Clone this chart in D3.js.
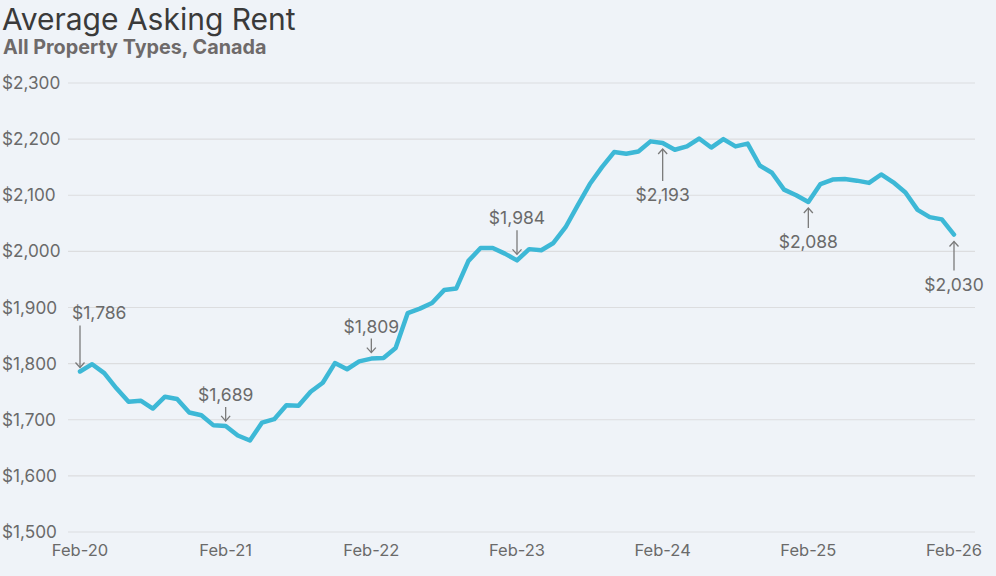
<!DOCTYPE html>
<html><head><meta charset="utf-8">
<script src="https://cdn.jsdelivr.net/npm/d3@7"></script>
<style>
html,body{margin:0;padding:0;background:#eff3f8;}
svg{display:block;font-family:Inter,"Noto Sans",sans-serif;}
</style></head>
<body><svg id="c" width="996" height="576"></svg>
<script>
const months = ["Feb-20","Mar-20","Apr-20","May-20","Jun-20","Jul-20","Aug-20","Sep-20","Oct-20","Nov-20","Dec-20","Jan-21",
"Feb-21","Mar-21","Apr-21","May-21","Jun-21","Jul-21","Aug-21","Sep-21","Oct-21","Nov-21","Dec-21","Jan-22",
"Feb-22","Mar-22","Apr-22","May-22","Jun-22","Jul-22","Aug-22","Sep-22","Oct-22","Nov-22","Dec-22","Jan-23",
"Feb-23","Mar-23","Apr-23","May-23","Jun-23","Jul-23","Aug-23","Sep-23","Oct-23","Nov-23","Dec-23","Jan-24",
"Feb-24","Mar-24","Apr-24","May-24","Jun-24","Jul-24","Aug-24","Sep-24","Oct-24","Nov-24","Dec-24","Jan-25",
"Feb-25","Mar-25","Apr-25","May-25","Jun-25","Jul-25","Aug-25","Sep-25","Oct-25","Nov-25","Dec-25","Jan-26","Feb-26"];
const rent = [1786,1799,1783,1756,1732,1734,1720,1741,1737,1713,1708,1690,
1689,1672,1663,1695,1701,1726,1725,1750,1766,1801,1790,1804,
1809,1810,1828,1890,1898,1908,1931,1934,1983,2006,2006,1996,
1984,2004,2002,2015,2043,2082,2120,2150,2177,2174,2178,2196,
2193,2181,2187,2201,2185,2200,2187,2192,2153,2140,2110,2100,
2088,2120,2128,2129,2126,2122,2137,2123,2105,2074,2061,2057,2030];
const yTicks = [1500,1600,1700,1800,1900,2000,2100,2200,2300];
const xTickLabels = ["Feb-20","Feb-21","Feb-22","Feb-23","Feb-24","Feb-25","Feb-26"];
const annotations = [
  {month:"Feb-20", value:1786, label:"$1,786"},
  {month:"Feb-21", value:1689, label:"$1,689"},
  {month:"Feb-22", value:1809, label:"$1,809"},
  {month:"Feb-23", value:1984, label:"$1,984"},
  {month:"Feb-24", value:2193, label:"$2,193"},
  {month:"Feb-25", value:2088, label:"$2,088"},
  {month:"Feb-26", value:2030, label:"$2,030"}
];
// styling for annotations (position offsets, not data)
const annoStyle = {
  "Feb-20":{dir:"down",gap:4,len:42},
  "Feb-21":{dir:"down",gap:5,len:14},
  "Feb-22":{dir:"down",gap:6,len:14},
  "Feb-23":{dir:"down",gap:6,len:24},
  "Feb-24":{dir:"up",gap:6,len:32},
  "Feb-25":{dir:"up",gap:6,len:20},
  "Feb-26":{dir:"up",gap:7,len:29}
};

const svg = d3.select("#c");
const x = d3.scalePoint().domain(months).range([80,954]);
const y = d3.scaleLinear().domain([1500,2300]).range([532,83]);

svg.append("text").attr("x",2).attr("y",29.5).attr("font-size",30).attr("fill","#3a3a3a").text("Average Asking Rent");
svg.append("text").attr("x",3).attr("y",53.5).attr("font-size",19.8).attr("font-weight","bold").attr("fill","#6e6a6a").text("All Property Types, Canada");

// grid
const grid = svg.append("g");
yTicks.forEach(t=>{
  grid.append("line").attr("x1",68).attr("x2",975).attr("y1",y(t)).attr("y2",y(t))
    .attr("stroke","#dcdddf").attr("stroke-width",1.2);
  grid.append("text").attr("x",2).attr("y",y(t)+6).attr("font-size",17.2).attr("fill","#6a6a6a")
    .text(d3.format("$,")(t));
});
xTickLabels.forEach(m=>{
  svg.append("text").attr("x",x(m)).attr("y",556).attr("text-anchor","middle").attr("font-size",16.5)
    .attr("fill","#6a6a6a").text(m);
});

const line = d3.line().x((d,i)=>x(months[i])).y(d=>y(d)).curve(d3.curveLinear);
svg.append("path").datum(rent).attr("d",line).attr("fill","none").attr("stroke","#3db8d6")
  .attr("stroke-width",4.5).attr("stroke-linejoin","round").attr("stroke-linecap","round");

// annotations
const ag = svg.append("g");
annotations.forEach(a=>{
  const s = annoStyle[a.month];
  const px = x(a.month), py = y(a.value);
  let tip, tail, ty;
  if(s.dir==="down"){ tip = py - s.gap; tail = tip - s.len; ty = tail - 6; }
  else { tip = py + s.gap; tail = tip + s.len; ty = tail + 20; }
  ag.append("line").attr("x1",px).attr("x2",px).attr("y1",tail).attr("y2",tip)
    .attr("stroke","#7a7a7a").attr("stroke-width",1.3);
  const dy = s.dir==="down" ? -5 : 5;
  ag.append("path").attr("d",`M${px-4.5},${tip+dy}L${px},${tip}L${px+4.5},${tip+dy}`)
    .attr("fill","none").attr("stroke","#7a7a7a").attr("stroke-width",1.3);
  let tx = px, anchor = "middle";
  if(a.month==="Feb-20"){ tx = 72; anchor="start"; }
  ag.append("text").attr("x",tx).attr("y",ty).attr("text-anchor",anchor).attr("font-size",17.5)
    .attr("fill","#6a6a6a").text(a.label);
});
</script></body></html>
